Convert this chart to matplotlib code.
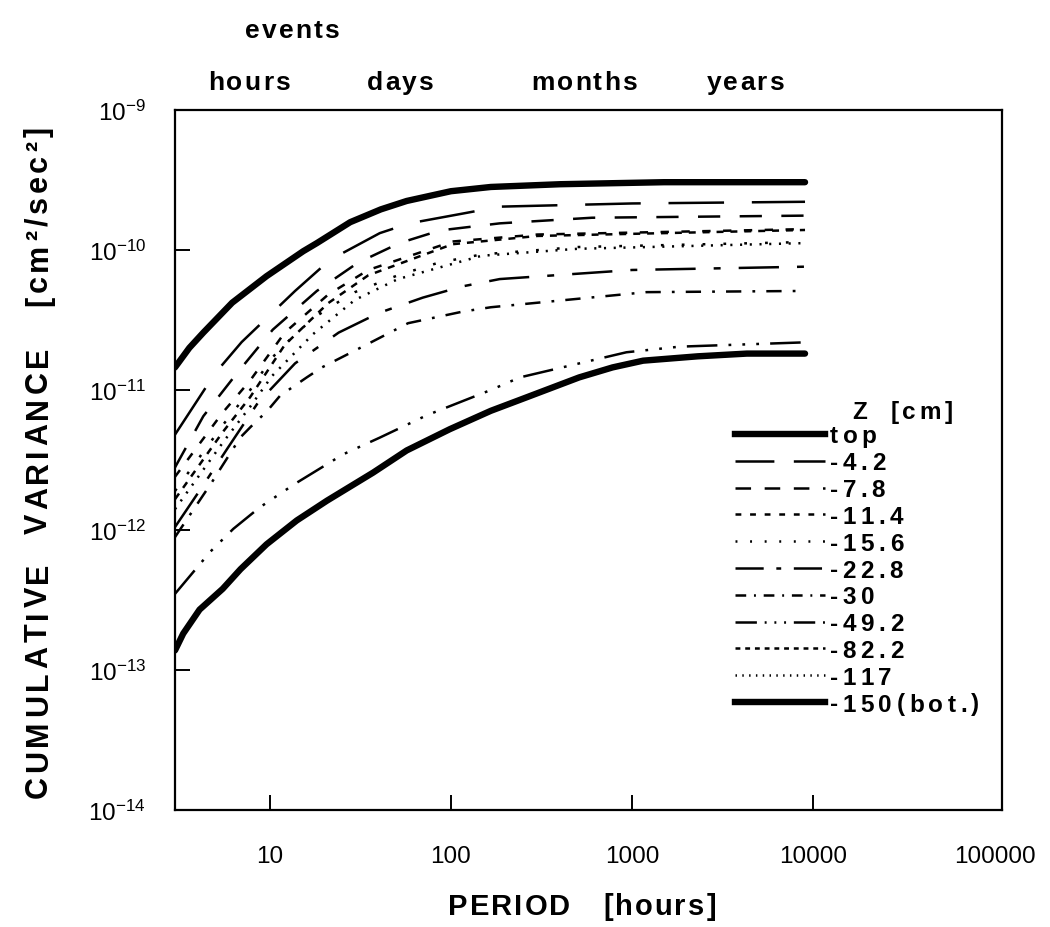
import matplotlib
matplotlib.use('Agg')
import matplotlib.pyplot as plt
import matplotlib.transforms as mtransforms
from matplotlib import ticker, font_manager
from matplotlib.font_manager import FontProperties, findfont, get_font
from matplotlib.lines import Line2D
import numpy as np

try:
    from matplotlib.ft2font import LoadFlags
    NO_HINT = LoadFlags.NO_HINTING
except ImportError:
    from matplotlib.ft2font import LOAD_NO_HINTING as NO_HINT

# narrow face for the tick numbers if it is installed
installed = {f.name for f in font_manager.fontManager.ttflist}
if 'Liberation Sans Narrow' in installed:
    TICK_FAMILY, TICK_SIZE = 'Liberation Sans Narrow', 19
else:
    TICK_FAMILY, TICK_SIZE = 'Liberation Sans', 17.5

plt.rcParams['font.family'] = ['Liberation Sans', 'DejaVu Sans']
plt.rcParams['mathtext.fontset'] = 'custom'
plt.rcParams['mathtext.rm'] = TICK_FAMILY
plt.rcParams['mathtext.default'] = 'regular'
plt.rcParams['lines.scale_dashes'] = False

# cumulative variance [cm^2/sec^2] vs period [hours], one curve per depth
PERIOD_TOP = [3, 3.6, 4.3, 6.2, 9.6, 15.3, 18.2, 27.8, 41, 57, 100, 166, 400, 1500, 9000]
VAR_TOP = [1.45e-11, 2.0e-11, 2.57e-11, 4.2e-11, 6.5e-11, 9.8e-11, 1.12e-10, 1.58e-10,
           1.95e-10, 2.24e-10, 2.63e-10, 2.82e-10, 2.95e-10, 3.05e-10, 3.05e-10]

PERIOD_4_2 = [3, 5.0, 7.0, 13.8, 21.5, 40.5, 59, 116, 186, 1000, 9000]
VAR_4_2 = [4.8e-12, 1.32e-11, 2.2e-11, 5.1e-11, 8.5e-11, 1.32e-10, 1.55e-10,
           1.82e-10, 2.04e-10, 2.15e-10, 2.21e-10]

PERIOD_7_8 = [3, 4.3, 6.6, 10.4, 18.2, 30.6, 52, 87, 186, 600, 9000]
VAR_7_8 = [2.8e-12, 6.5e-12, 1.32e-11, 2.7e-11, 5.1e-11, 8.1e-11, 1.12e-10,
           1.38e-10, 1.55e-10, 1.70e-10, 1.76e-10]

PERIOD_11_4 = [3, 5.5, 7.8, 12.1, 21, 35, 102, 300, 9000]
VAR_11_4 = [2.4e-12, 6.9e-12, 1.17e-11, 2.57e-11, 4.8e-11, 7.2e-11, 1.15e-10,
            1.29e-10, 1.41e-10]

PERIOD_15_6 = [3, 5.5, 7.8, 10.3, 13.4, 17.3, 22.6, 29.5, 51, 85, 148, 500, 9000]
VAR_15_6 = [1.9e-12, 5.6e-12, 1.0e-11, 1.7e-11, 2.4e-11, 3.24e-11, 4.07e-11,
            5.0e-11, 6.6e-11, 8.1e-11, 9.3e-11, 1.05e-10, 1.14e-10]

PERIOD_22_8 = [3, 4.2, 5.9, 8.6, 13.8, 24, 40, 70, 116, 186, 1000, 9000]
VAR_22_8 = [1.05e-12, 2.0e-12, 3.9e-12, 8.1e-12, 1.55e-11, 2.57e-11, 3.55e-11,
            4.57e-11, 5.5e-11, 6.2e-11, 7.2e-11, 7.6e-11]

PERIOD_30 = [3, 4.8, 5.4, 6.9, 7.9, 9.7, 11.4, 16, 19.4, 34, 58, 116, 166, 1200, 9000]
VAR_30 = [8.9e-13, 2.2e-12, 2.8e-12, 4.6e-12, 5.5e-12, 7.1e-12, 9.1e-12, 1.23e-11,
          1.45e-11, 2.1e-11, 3.0e-11, 3.63e-11, 3.9e-11, 5.0e-11, 5.1e-11]

PERIOD_49_2 = [3, 4.7, 6.3, 8.8, 13.8, 25.4, 40.5, 73.6, 166, 240, 930, 1830, 9000]
VAR_49_2 = [3.5e-13, 7.0e-13, 1.02e-12, 1.45e-12, 2.14e-12, 3.47e-12, 4.57e-12,
            6.6e-12, 1.0e-11, 1.23e-11, 1.86e-11, 2.04e-11, 2.19e-11]

PERIOD_82_2 = [3, 5.5, 7.8, 12.1, 21, 35, 102, 300, 9000]
VAR_82_2 = [1.66e-12, 5.0e-12, 8.9e-12, 2.1e-11, 4.17e-11, 6.6e-11, 1.1e-10,
            1.26e-10, 1.39e-10]

PERIOD_117 = [3, 5.5, 7.8, 10.3, 17.3, 29.5, 51, 148, 500, 9000]
VAR_117 = [1.41e-12, 4.2e-12, 7.6e-12, 1.26e-11, 2.5e-11, 4.4e-11, 6.2e-11,
           9.1e-11, 1.02e-10, 1.12e-10]

PERIOD_BOT = [3, 3.33, 4.1, 5.5, 6.9, 9.6, 14.1, 20.7, 37.2, 57, 98.6, 166, 240,
              510, 780, 1150, 2300, 4300, 9000]
VAR_BOT = [1.38e-13, 1.82e-13, 2.7e-13, 3.8e-13, 5.25e-13, 7.9e-13, 1.17e-12, 1.62e-12,
           2.57e-12, 3.7e-12, 5.25e-12, 7.1e-12, 8.5e-12, 1.23e-11, 1.45e-11,
           1.62e-11, 1.74e-11, 1.82e-11, 1.82e-11]

DEPTH_LABELS = ['top', '-4.2', '-7.8', '-11.4', '-15.6', '-22.8', '-30',
                '-49.2', '-82.2', '-117', '-150(bot.)']
PERIODS = [PERIOD_TOP, PERIOD_4_2, PERIOD_7_8, PERIOD_11_4, PERIOD_15_6,
           PERIOD_22_8, PERIOD_30, PERIOD_49_2, PERIOD_82_2, PERIOD_117, PERIOD_BOT]
VARIANCES = [VAR_TOP, VAR_4_2, VAR_7_8, VAR_11_4, VAR_15_6, VAR_22_8, VAR_30,
             VAR_49_2, VAR_82_2, VAR_117, VAR_BOT]

X_TICKS = [10, 100, 1000, 10000, 100000]
Y_TICKS = [1e-14, 1e-13, 1e-12, 1e-11, 1e-10, 1e-9]
EVENT_LABELS = ['hours', 'days', 'months', 'years']

# line styles: (linewidth, dash pattern in points or None for solid)
STYLES = [
    (4.6, None),
    (1.8, (40, 20)),
    (1.8, (16, 14)),
    (1.8, (6, 9)),
    (1.8, (2, 13)),
    (1.8, (29, 13, 5, 13)),
    (1.8, (11, 8, 2, 8)),
    (1.8, (22, 8, 2, 8, 2, 8, 2, 8)),
    (1.8, (5, 5)),
    (1.8, (1.5, 5.5)),
    (4.6, None),
]

W, H = 1050, 928
fig = plt.figure(figsize=(W / 100, H / 100), dpi=100, facecolor='white')
ax = fig.add_axes([175 / W, 1 - 811 / H, 827 / W, 700 / H])


def fx(px):
    return px / W


def fy(py):
    return 1 - py / H


def spaced_text(s, x_px, y_px, size, track, ha='left', rotation=0, weight='bold'):
    # draws text char by char with extra letter spacing (track, in points)
    prop = FontProperties(family='Liberation Sans', weight=weight, size=size)
    font = get_font(findfont(prop))
    font.set_size(size, 72)
    adv = [font.load_char(ord(c), flags=NO_HINT).linearHoriAdvance / 65536 for c in s]
    total = sum(adv) + track * (len(s) - 1)
    pos = {'left': 0.0, 'center': -total / 2, 'right': -total}[ha]
    for c, a in zip(s, adv):
        dx, dy = (0, pos) if rotation == 90 else (pos, 0)
        off = mtransforms.ScaledTranslation(dx / 72, dy / 72, fig.dpi_scale_trans)
        fig.text(fx(x_px), fy(y_px), c, fontproperties=prop, rotation=rotation,
                 rotation_mode='anchor', ha='left', va='baseline',
                 transform=fig.transFigure + off)
        pos += a + track


# curves
for per, var, (lw, dash) in zip(PERIODS, VARIANCES, STYLES):
    ls = '-' if dash is None else (0, dash)
    ax.plot(per, var, color='black', lw=lw, linestyle=ls,
            solid_capstyle='round', solid_joinstyle='round', dash_capstyle='butt')

ax.set_xscale('log')
ax.set_yscale('log')
ax.set_xlim(3, 1.1e5)
ax.set_ylim(1e-14, 1e-9)

ax.xaxis.set_major_locator(ticker.FixedLocator(X_TICKS))
ax.xaxis.set_major_formatter(ticker.FuncFormatter(lambda v, _: f'{int(round(v))}'))
ax.yaxis.set_major_locator(ticker.FixedLocator(Y_TICKS))
ax.yaxis.set_major_formatter(ticker.FuncFormatter(
    lambda v, _: r'$10^{%d}$' % int(round(np.log10(v)))))
ax.xaxis.set_minor_locator(ticker.NullLocator())
ax.yaxis.set_minor_locator(ticker.NullLocator())

ax.tick_params(axis='both', direction='in', length=11, width=1.4,
               labelsize=TICK_SIZE, top=False, right=False, colors='black')
ax.tick_params(axis='x', pad=25)
ax.tick_params(axis='y', pad=21)
ax.xaxis.get_major_ticks()[-1].tick1line.set_visible(False)
for lab in ax.get_xticklabels() + ax.get_yticklabels():
    lab.set_fontfamily(TICK_FAMILY)

for sp in ax.spines.values():
    sp.set_linewidth(1.6)

# axis titles
spaced_text('CUMULATIVE  VARIANCE   [cm²/sec²]', 47, 462, 22, 2.8, ha='center', rotation=90)
spaced_text('PERIOD   [hours]', 582, 915, 21, 1.5, ha='center')

# time-scale labels above the plot
spaced_text('events', 292, 38, 19, 1.5, ha='center')
for lab, cx in zip(EVENT_LABELS, [249, 400, 584, 745]):
    spaced_text(lab, cx, 90, 19, 1.5, ha='center')

# legend
spaced_text('Z  [cm]', 852, 419, 17.5, 2.5)
for i, (lab, (lw, dash)) in enumerate(zip(DEPTH_LABELS, STYLES)):
    yc = 435 + i * 26.8
    ls = '-' if dash is None else (0, [d * 0.7 for d in dash])
    fig.add_artist(Line2D([fx(735), fx(825)], [fy(yc), fy(yc)], transform=fig.transFigure,
                          color='black', lw=lw, linestyle=ls, dash_capstyle='butt'))
    spaced_text(lab, 830, yc + 8.5, 17.5, 3.2)

fig.savefig('out.png', dpi=100, facecolor='white')
